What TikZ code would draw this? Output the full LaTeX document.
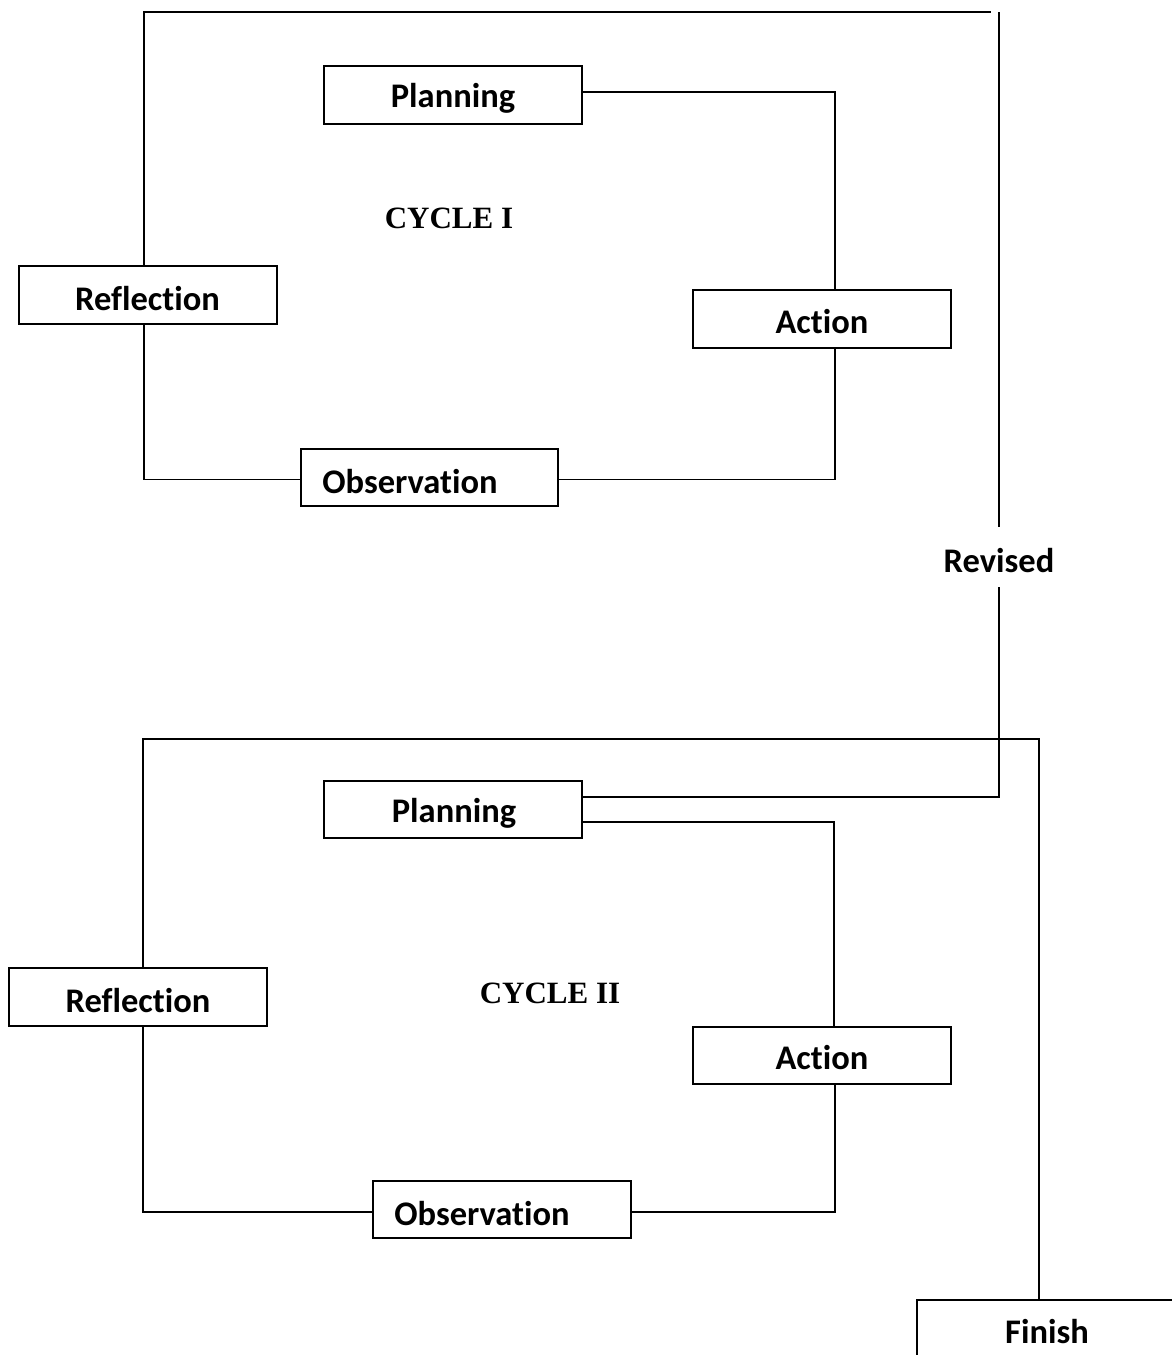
\documentclass[tikz,border=0pt]{standalone}
\usepackage{fontspec}
\setmainfont[Ligatures=NoCommon,RawFeature={-liga;-clig;-dlig}]{Carlito}
\newfontfamily\tnr{Liberation Serif}
\begin{document}
\begin{tikzpicture}[x=1pt,y=-1pt,
  box/.style={draw,line width=1.9pt,inner sep=0pt,minimum width=258pt,minimum height=58pt},
  lbl/.style={anchor=base,inner sep=0pt,font=\fontsize{34.5}{40}\selectfont\bfseries},
  cyc/.style={anchor=base,inner sep=0pt,font=\tnr\fontsize{31}{36}\selectfont\bfseries},
  conn/.style={line width=1.9pt}]
\useasboundingbox (0,0) rectangle (1171,1355);
% Cycle I boxes
\node[box] (P1) at (453,95) {};
\node[box] (A1) at (822,319) {};
\node[box,minimum width=257pt,minimum height=57pt] (O1) at (429.5,477.5) {};
\node[box] (R1) at (148,295) {};
% Cycle II boxes
\node[box,minimum height=57pt] (P2) at (453,809.5) {};
\node[box,minimum height=57pt] (A2) at (822,1055.5) {};
\node[box,minimum height=57pt] (O2) at (502,1209.5) {};
\node[box] (R2) at (138,997) {};
\node[box,minimum width=286pt,minimum height=100pt] (F) at (1060,1350) {};
% labels
\begin{scope}
\clip (P1.north west) rectangle ([yshift=11pt]P1.south east);
\node[lbl] (tP1) at (453,107) {Planning};
\end{scope}
\begin{scope}
\clip (P2.north west) rectangle ([yshift=11pt]P2.south east);
\node[lbl] (tP2) at (454,822) {Planning};
\end{scope}
\node[lbl] (tA1) at (822,333) {Action};
\node[lbl] (tO1) at (410,493) {Observation};
\node[lbl] (tR1) at (147.5,310) {Reflection};
\node[lbl] (tA2) at (822,1069) {Action};
\node[lbl] (tO2) at (482,1225) {Observation};
\node[lbl] (tR2) at (138,1012) {Reflection};
\node[lbl] (tF) at (1047,1343) {Finish};
\node[lbl] (rev) at (999,572) {Revised};
\node[cyc] (c1) at (449,228) {CYCLE I};
\node[cyc] (c2) at (550,1003) {CYCLE II};
% coordinates
\coordinate (t1) at (991,12);
\coordinate (rt) at (999,12);
\coordinate (rvA) at (999,527);
\coordinate (rvB) at (999,587);
\coordinate (rvC) at (999,797);
\coordinate (t2) at (1039,739);
% Cycle I connectors
\draw[conn] ([xshift=-4pt]R1.north) |- (t1);
\draw[conn] (rt) -- (rvA);
\draw[conn] (rvB) -- (rvC) -- ([yshift=12.5pt]P2.east);
\draw[conn] ([yshift=3pt]P1.east) -| ([xshift=13pt]A1.north);
\draw[conn] ([xshift=13pt]A1.south) |- ([yshift=-2pt]O1.east);
\draw[conn] ([yshift=-2pt]O1.west) -| ([xshift=-4pt]R1.south);
% Cycle II connectors
\draw[conn] ([xshift=5pt]R2.north) |- (t2) -- ([xshift=-21pt]F.north);
\draw[conn] ([yshift=-12.5pt]P2.east) -| ([xshift=12pt]A2.north);
\draw[conn] ([xshift=13pt]A2.south) |- ([yshift=-2.5pt]O2.east);
\draw[conn] ([yshift=-2.5pt]O2.west) -| ([xshift=5pt]R2.south);
\end{tikzpicture}
\end{document}
